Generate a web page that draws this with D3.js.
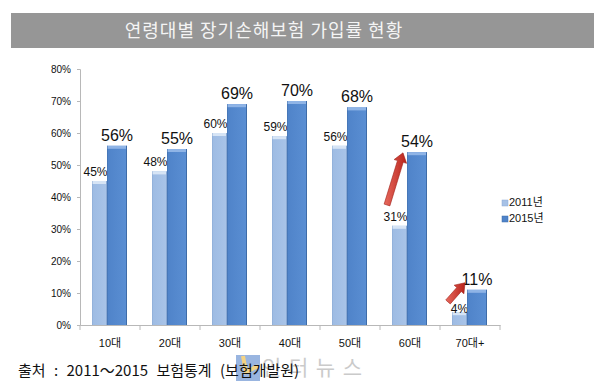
<!DOCTYPE html>
<html><head><meta charset="utf-8">
<script src="https://cdn.jsdelivr.net/npm/d3@7"></script>
<style>body{margin:0;background:#fff;}svg{display:block;}</style>
</head><body>
<svg id="c" width="594" height="381"></svg>
<script>
const categories = ["10대","20대","30대","40대","50대","60대","70대+"];
const values2011 = [45,48,60,59,56,31,4];
const values2015 = [56,55,69,70,68,54,11];
const seriesNames = ["2011년","2015년"];
const yTicks = [0,10,20,30,40,50,60,70,80];
const title = "연령대별 장기손해보험 가입률 현황";
const source = "출처 : 2011～2015 보험통계 (보험개발원)";
const arrows = [
  {cat:"60대", from:37.5, to:53.8, dx0:7, dx1:23},
  {cat:"70대+", from:7.2, to:13.2, dx0:8, dx1:25}
];

const svg = d3.select("#c");
const font = "Arial, 'Liberation Sans', 'Noto Sans CJK KR', sans-serif";

// title banner
svg.append("rect").attr("x",11).attr("y",13).attr("width",583).attr("height",35).attr("fill","#969696");
svg.append("text").attr("x",264).attr("y",37).attr("text-anchor","middle")
  .attr("font-family","'Noto Sans CJK KR', sans-serif").attr("font-size",18)
  .attr("fill","#f4f4f4").attr("letter-spacing",1).text(title);

const x = d3.scaleBand().domain(categories).range([80,500]);
const y = d3.scaleLinear().domain([0,80]).range([325,69]);

// axes
const yAxis = svg.append("g").attr("transform","translate(80,0)")
  .call(d3.axisLeft(y).tickValues(yTicks).tickFormat(d=>d+"%").tickSize(3).tickPadding(6));
yAxis.select(".domain").attr("stroke","#b8b8b8");
yAxis.selectAll(".tick line").attr("stroke","#b8b8b8");
yAxis.selectAll("text").attr("font-family",font).attr("font-size",10).attr("fill","#111");

const xAxis = svg.append("g").attr("transform","translate(0,325)")
  .call(d3.axisBottom(x).tickSize(0).tickPadding(14));
xAxis.select(".domain").attr("stroke","#b8b8b8");
xAxis.selectAll("text").attr("font-family",font).attr("font-size",11).attr("fill","#111");
const edges = categories.map(c=>x(c)).concat([x.range()[1]]);
svg.append("g").selectAll("line").data(edges).join("line")
  .attr("x1",d=>d).attr("x2",d=>d).attr("y1",325).attr("y2",330).attr("stroke","#b8b8b8");

// bars
const defs = svg.append("defs");
function grad(id, c1, c2){
  const g = defs.append("linearGradient").attr("id",id).attr("x1","0").attr("x2","1").attr("y1","0").attr("y2","0");
  g.append("stop").attr("offset","0").attr("stop-color",c1);
  g.append("stop").attr("offset","1").attr("stop-color",c2);
}
grad("g11","#9dbbe3","#a9c4e8");
grad("g15","#4f83c9","#5b8fd3");

const series = [
  {name:seriesNames[0], vals:values2011, off:12, w:15, fill:"url(#g11)", top:"#d6e4f5", edge:"#8aa9d4", lab:12, ldx:-4},
  {name:seriesNames[1], vals:values2015, off:27, w:20, fill:"url(#g15)", top:"#8fb4e6", edge:"#3e6ca8", lab:16, ldx:0}
];
series.forEach(s=>{
  const g = svg.append("g");
  categories.forEach((c,i)=>{
    const v = s.vals[i];
    const bx = x(c)+s.off, by = y(v), bh = y(0)-y(v);
    g.append("rect").attr("x",bx).attr("y",by).attr("width",s.w).attr("height",bh).attr("fill",s.fill);
    g.append("rect").attr("x",bx).attr("y",by).attr("width",s.w).attr("height",3).attr("fill",s.top);
    g.append("line").attr("x1",bx+s.w-0.5).attr("x2",bx+s.w-0.5).attr("y1",by).attr("y2",y(0)).attr("stroke",s.edge);
    g.append("line").attr("x1",bx+0.5).attr("x2",bx+0.5).attr("y1",by).attr("y2",y(0)).attr("stroke",s.edge).attr("stroke-opacity",0.5);
    const small = v < 10;
    g.append("text").attr("x",bx+s.w/2+(small?0:s.ldx)).attr("y",small?by+1:by-5).attr("text-anchor","middle")
      .attr("font-family",font).attr("font-size",s.lab).attr("fill","#111").text(v+"%");
  });
});

// arrows
const ag = defs.append("linearGradient").attr("id","ga").attr("x1","0").attr("x2","1");
ag.append("stop").attr("offset","0").attr("stop-color","#e86a5e");
ag.append("stop").attr("offset","1").attr("stop-color","#b8231b");
arrows.forEach(a=>{
  const x0 = x(a.cat)+a.dx0, y0 = y(a.from), x1 = x(a.cat)+a.dx1, y1 = y(a.to);
  const dx = x1-x0, dy = y1-y0, L = Math.hypot(dx,dy);
  const ux = dx/L, uy = dy/L, px = -uy, py = ux;
  const sw = 3, hw = 6.5, hl = 9;
  const bx = x1-ux*hl, by = y1-uy*hl;
  const pts = [
    [x0+px*sw, y0+py*sw],[bx+px*sw, by+py*sw],[bx+px*hw, by+py*hw],[x1,y1],
    [bx-px*hw, by-py*hw],[bx-px*sw, by-py*sw],[x0-px*sw, y0-py*sw]
  ];
  svg.append("path").attr("d", d3.line()(pts)+"Z").attr("fill","url(#ga)").attr("stroke","#a0201a").attr("stroke-width",0.6);
});

// legend
const lg = svg.append("g");
series.forEach((s,i)=>{
  lg.append("rect").attr("x",502).attr("y",200+i*16).attr("width",6).attr("height",6)
    .attr("fill", i===0?"#a6c1e6":"#4f83c9").attr("stroke", i===0?"#8aa9d4":"#3e6ca8").attr("stroke-width",0.5);
  lg.append("text").attr("x",509).attr("y",206+i*16).attr("font-family",font).attr("font-size",11)
    .attr("fill","#111").text(s.name);
});

// watermark (behind source text)
const wm = svg.append("g").attr("opacity",0.7);
wm.append("rect").attr("x",236).attr("y",355).attr("width",24).attr("height",26).attr("fill","#6f97d4");
wm.append("path").attr("d","M243,356 L246,372 L258,366").attr("fill","none").attr("stroke","#f2c14e").attr("stroke-width",4);
wm.append("text").attr("x",262).attr("y",375).attr("font-family","'Noto Sans CJK KR', sans-serif")
  .attr("font-size",21).attr("textLength",100).attr("fill","#b5b5b5").text("인터뉴스");

// source
svg.append("text").attr("x",18).attr("y",376).attr("font-family","'Noto Sans CJK KR', sans-serif")
  .attr("font-size",15).attr("word-spacing",5).attr("fill","#111").text(source);
</script>
</body></html>
